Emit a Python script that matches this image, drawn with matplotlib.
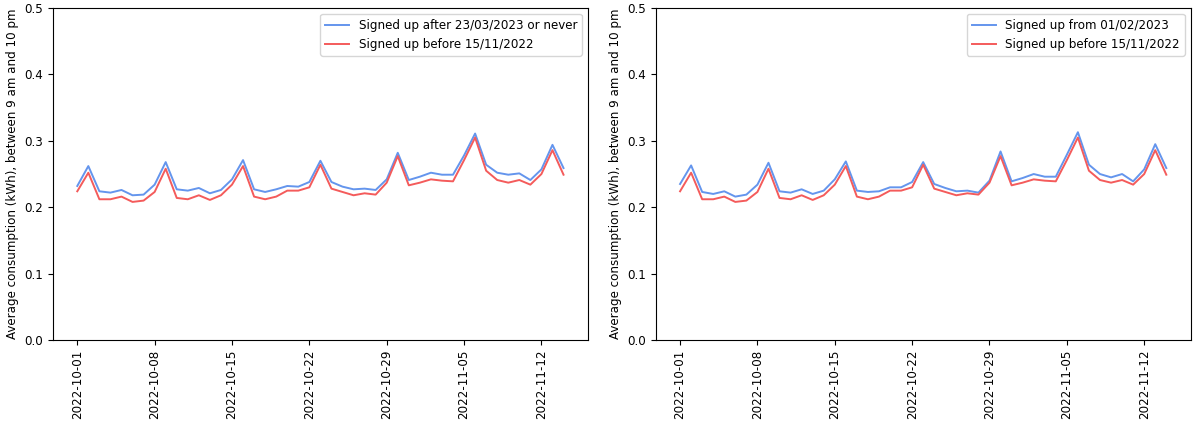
import numpy as np
import pandas as pd
import matplotlib
matplotlib.use("Agg")
import matplotlib.pyplot as plt

# daily averages, 2022-10-01 .. 2022-11-14
dates = pd.date_range("2022-10-01", "2022-11-14", freq="D")

# left panel
after_or_never = [0.232, 0.262, 0.224, 0.222, 0.226, 0.218, 0.219, 0.234, 0.268, 0.227,
                  0.225, 0.229, 0.221, 0.226, 0.242, 0.271, 0.227, 0.223, 0.227, 0.232,
                  0.231, 0.238, 0.270, 0.238, 0.231, 0.227, 0.228, 0.226, 0.242, 0.282,
                  0.241, 0.246, 0.252, 0.249, 0.249, 0.278, 0.311, 0.264, 0.252, 0.249,
                  0.251, 0.241, 0.257, 0.294, 0.259]

# right panel
from_feb = [0.235, 0.263, 0.223, 0.220, 0.224, 0.216, 0.219, 0.234, 0.267, 0.224,
            0.222, 0.227, 0.220, 0.225, 0.242, 0.269, 0.225, 0.223, 0.224, 0.230,
            0.230, 0.238, 0.268, 0.235, 0.229, 0.224, 0.225, 0.222, 0.240, 0.284,
            0.239, 0.244, 0.250, 0.246, 0.246, 0.279, 0.313, 0.264, 0.250, 0.245,
            0.250, 0.239, 0.257, 0.295, 0.259]

# same group in both panels
before_nov = [0.224, 0.252, 0.212, 0.212, 0.216, 0.208, 0.210, 0.223, 0.258, 0.214,
              0.212, 0.218, 0.211, 0.218, 0.234, 0.262, 0.216, 0.212, 0.216, 0.225,
              0.225, 0.230, 0.264, 0.228, 0.223, 0.218, 0.221, 0.219, 0.237, 0.277,
              0.233, 0.237, 0.242, 0.240, 0.239, 0.271, 0.305, 0.255, 0.241, 0.237,
              0.241, 0.234, 0.250, 0.286, 0.249]

labels_left = ["Signed up after 23/03/2023 or never", "Signed up before 15/11/2022"]
labels_right = ["Signed up from 01/02/2023", "Signed up before 15/11/2022"]
tick_dates = pd.date_range("2022-10-01", "2022-11-12", freq="7D")

BLUE = "cornflowerblue"
RED = "#f45b5b"

plt.rcParams["font.size"] = 8.6

fig, axes = plt.subplots(1, 2, figsize=(11.93, 4.25), dpi=100)
fig.subplots_adjust(left=0.0444, right=0.998, top=0.981, bottom=0.2, wspace=0.127)

for ax, blue_vals, labels in zip(axes, [after_or_never, from_feb], [labels_left, labels_right]):
    ax.plot(dates, blue_vals, color=BLUE, lw=1.4, label=labels[0])
    ax.plot(dates, before_nov, color=RED, lw=1.4, label=labels[1])
    ax.set_ylim(0, 0.5)
    ax.set_xticks(tick_dates)
    ax.set_xticklabels([d.strftime("%Y-%m-%d") for d in tick_dates], rotation=90)
    ax.set_ylabel("Average consumption (kWh), between 9 am and 10 pm")
    ax.legend(loc="upper right")

fig.savefig("out.png", dpi=100)
